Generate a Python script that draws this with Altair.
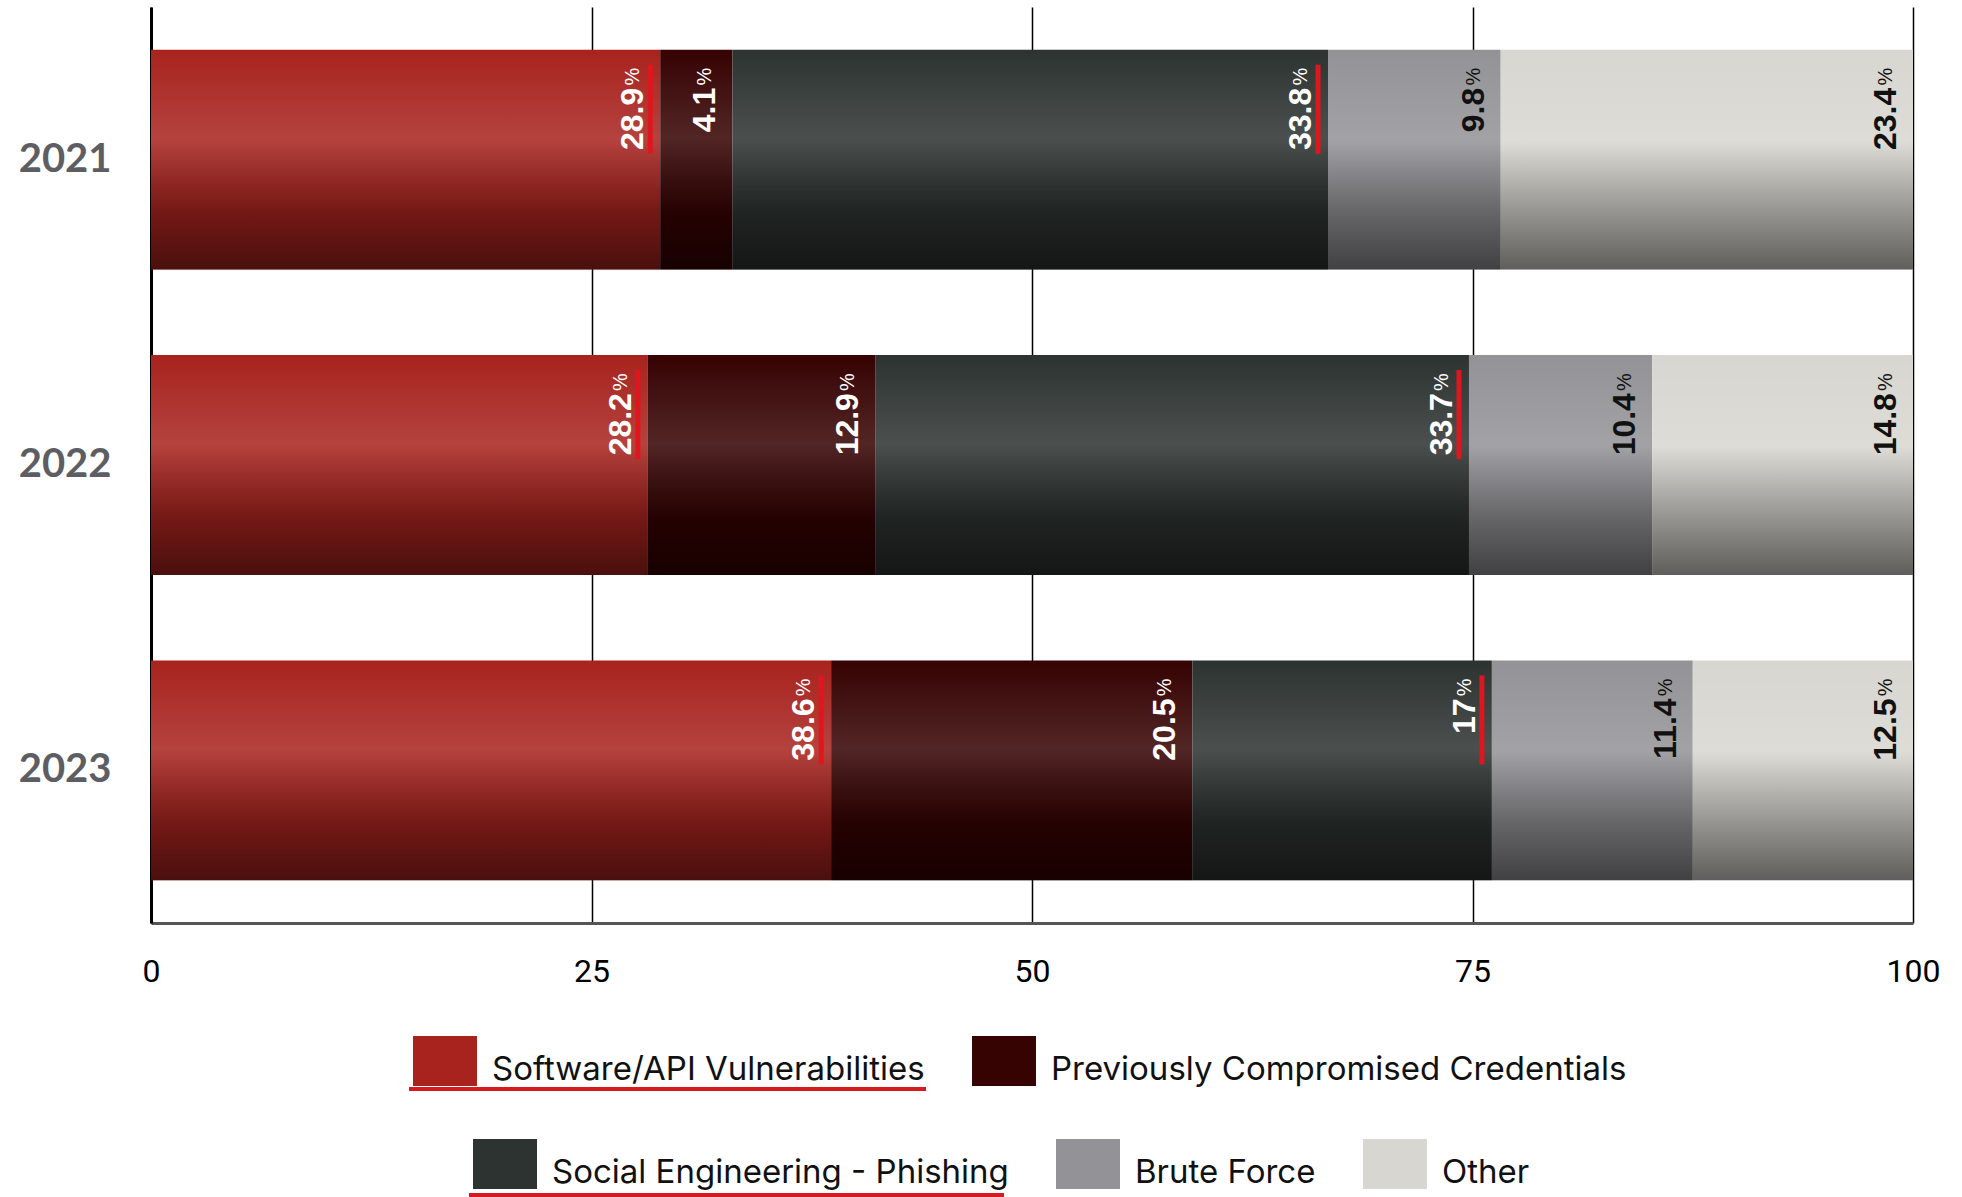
import altair as alt
import pandas as pd

# ---------------- data ----------------
years = ["2021", "2022", "2023"]
categories = [
    "Software/API Vulnerabilities",
    "Previously Compromised Credentials",
    "Social Engineering - Phishing",
    "Brute Force",
    "Other",
]
software_api = [28.9, 28.2, 38.6]
prev_credentials = [4.1, 12.9, 20.5]
social_engineering = [33.8, 33.7, 17.0]
brute_force = [9.8, 10.4, 11.4]
other = [23.4, 14.8, 12.5]
series = [software_api, prev_credentials, social_engineering, brute_force, other]

colors = ["#a8231e", "#360202", "#2d3331", "#939296", "#d8d6d0"]
x_ticks = [0, 25, 50, 75, 100]
underlined = ["Software/API Vulnerabilities", "Social Engineering - Phishing"]
dark_label_cats = ["Brute Force", "Other"]

rows = []
for ci, (cat, vals) in enumerate(zip(categories, series)):
    for yr, v in zip(years, vals):
        rows.append({"year": yr, "category": cat, "order": ci,
                     "value": v, "label": f"{v:g}"})
df = pd.DataFrame(rows)

# ---------------- encodings ----------------
y_scale = alt.Scale(domain=years, paddingInner=0.28, paddingOuter=0.14)
y_axis = alt.Axis(title=None, labelFont="Lato", labelFontSize=40, labelFontWeight="bold",
                  labelColor="#5d5e63", labelPadding=40, ticks=False,
                  domainColor="black", domainWidth=3, grid=False)
x_scale = alt.Scale(domain=[0, 100], nice=False)
x_axis = alt.Axis(title=None, values=x_ticks, labelFont="Roboto", labelFontSize=32,
                  labelColor="black", labelPadding=33, ticks=False, labelFlush=False,
                  domainColor="#555555", domainWidth=3, grid=True,
                  gridColor="black", gridWidth=1.5)


def Y(**kw):
    return alt.Y("year:N", scale=y_scale, axis=y_axis, **kw)


def X(field):
    return alt.X(field, scale=x_scale, axis=x_axis)


base = alt.Chart(df).transform_stack(
    stack="value", groupby=["year"], as_=["xs", "xe"],
    sort=[alt.SortField("order", order="ascending")],
)


def legend(x, y):
    return alt.Legend(
        title=None, orient="none", legendX=x, legendY=y, direction="horizontal",
        symbolType="M-1.28,-1.36H1.28V0.64H-1.28Z", symbolSize=2500, symbolStrokeWidth=0,
        labelFont="Inter", labelFontSize=33, labelColor="#111111", labelOffset=22,
        columnPadding=47, padding=0, labelLimit=1000,
    )


bars_a = base.transform_filter(
    alt.FieldOneOfPredicate(field="category", oneOf=categories[:2])
).mark_bar().encode(
    x=X("xs:Q"), x2="xe:Q", y=Y(),
    color=alt.Color("category:N",
                    scale=alt.Scale(domain=categories[:2], range=colors[:2]),
                    legend=legend(269, 1038)),
)

bars_b = base.transform_filter(
    alt.FieldOneOfPredicate(field="category", oneOf=categories[2:])
).mark_bar().encode(
    x=X("xs:Q"), x2="xe:Q", y=Y(),
    color=alt.Color("category:N",
                    scale=alt.Scale(domain=categories[2:], range=colors[2:]),
                    legend=legend(329, 1141)),
)

highlight = base.mark_bar(
    color=alt.Gradient(
        gradient="linear", x1=0, x2=0, y1=0, y2=1,
        stops=[
            alt.GradientStop(color="rgba(255,255,255,0)", offset=0),
            alt.GradientStop(color="rgba(255,255,255,0.14)", offset=0.4),
            alt.GradientStop(color="rgba(255,255,255,0)", offset=0.75),
        ],
    )
).encode(x=X("xs:Q"), x2="xe:Q", y=Y())

shade = base.mark_bar(
    color=alt.Gradient(
        gradient="linear", x1=0, x2=0, y1=0, y2=1,
        stops=[
            alt.GradientStop(color="rgba(0,0,0,0)", offset=0),
            alt.GradientStop(color="rgba(0,0,0,0)", offset=0.42),
            alt.GradientStop(color="rgba(0,0,0,0.56)", offset=1),
        ],
    )
).encode(x=X("xs:Q"), x2="xe:Q", y=Y())

label_color = alt.condition(
    alt.FieldOneOfPredicate(field="category", oneOf=dark_label_cats),
    alt.value("#111111"), alt.value("white"),
)

num_text = base.mark_text(
    angle=270, align="right", baseline="alphabetic", dx=-38, dy=-17,
    font="Liberation Sans", fontWeight="bold", fontSize=32,
).encode(x=X("xe:Q"), y=Y(bandPosition=0), text="label:N", color=label_color)

pct_text = base.mark_text(
    angle=270, align="right", baseline="alphabetic", dx=-18, dy=-21,
    font="Liberation Sans", fontSize=20, text="%",
).encode(x=X("xe:Q"), y=Y(bandPosition=0), color=label_color)

red_marks = base.transform_filter(
    alt.FieldOneOfPredicate(field="category", oneOf=underlined)
).mark_rule(color="#e0161f", strokeWidth=5, xOffset=-10, yOffset=15, y2Offset=104).encode(
    x=X("xe:Q"), y=Y(bandPosition=0), y2=alt.Y2("year:N", bandPosition=0),
)

underline1 = alt.Chart(df).mark_rule(color="#d71920", strokeWidth=4).encode(
    x=alt.value(258), x2=alt.value(775), y=alt.value(1082))
underline2 = alt.Chart(df).mark_rule(color="#d71920", strokeWidth=4).encode(
    x=alt.value(318), x2=alt.value(853), y=alt.value(1188))

chart = alt.layer(
    bars_a, bars_b, highlight, shade, num_text, pct_text, red_marks, underline1, underline2
).resolve_scale(color="independent").properties(
    width=1762, height=916,
    background="white",
    autosize=alt.AutoSizeParams(type="none"),
    padding={"left": 151, "top": 7, "right": 49, "bottom": 274},
).configure_view(strokeWidth=0)

chart.save("out.html", embed_options={"renderer": "svg", "actions": False})
